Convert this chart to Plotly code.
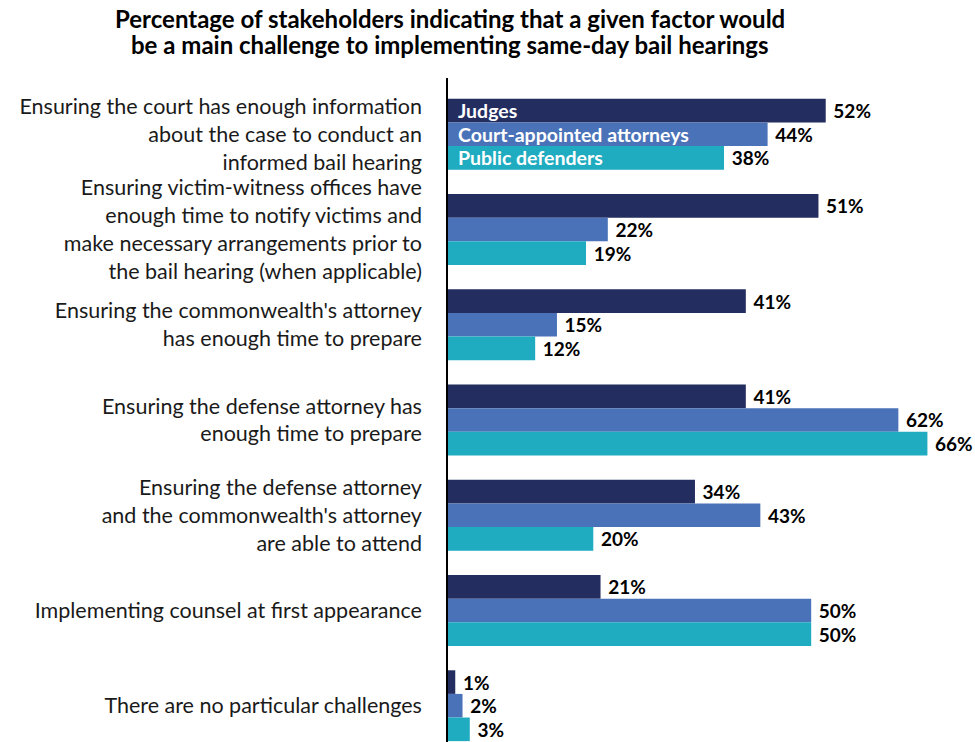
import plotly.graph_objects as go

# Survey results (percent of stakeholders)
factors = [
    "Ensuring the court has enough information<br>about the case to conduct an<br>informed bail hearing",
    "Ensuring victim-witness offices have<br>enough time to notify victims and<br>make necessary arrangements prior to<br>the bail hearing (when applicable)",
    "Ensuring the commonwealth's attorney<br>has enough time to prepare",
    "Ensuring the defense attorney has<br>enough time to prepare",
    "Ensuring the defense attorney<br>and the commonwealth's attorney<br>are able to attend",
    "Implementing counsel at first appearance",
    "There are no particular challenges",
]
series_names = ["Judges", "Court-appointed attorneys", "Public defenders"]
judges = [52, 51, 41, 41, 34, 21, 1]
court_appointed = [44, 22, 15, 62, 43, 50, 2]
public_defenders = [38, 19, 12, 66, 20, 50, 3]

title_lines = [
    "Percentage of stakeholders indicating that a given factor would",
    "be a main challenge to implementing same-day bail hearings",
]

colors = ["#232D5F", "#4A72B8", "#1FABC0"]
font_family = "Lato, 'Open Sans', sans-serif"

positions = list(range(len(factors)))
bar_w = 0.248
offsets = [-bar_w, 0, bar_w]

fig = go.Figure()
for name, values, color, off in zip(series_names,
                                    [judges, court_appointed, public_defenders],
                                    colors, offsets):
    fig.add_trace(go.Bar(
        y=positions,
        x=values,
        orientation="h",
        name=name,
        marker=dict(color=color, line=dict(width=0)),
        width=bar_w,
        offset=off - bar_w / 2,
        text=[f"\u00a0{v}%" for v in values],
        textposition="outside",
        constraintext="none",
        textfont=dict(family=font_family, size=19, color="black", weight="bold"),
        cliponaxis=False,
        showlegend=False,
    ))

# series names written inside the first group's bars
for name, off in zip(series_names, offsets):
    fig.add_annotation(
        x=0, y=positions[0] + off, text=f"<b>{name}</b>",
        xanchor="left", yanchor="middle", xshift=8, showarrow=False,
        font=dict(family=font_family, size=19.5, color="white"),
    )

# title, one annotation per line to keep the tight line spacing
for line, ypos in zip(title_lines, [1.090, 1.051]):
    fig.add_annotation(
        xref="paper", yref="paper", x=0.004, y=ypos, xanchor="center", yanchor="middle",
        showarrow=False, text=f"<b>{line}</b>",
        font=dict(family=font_family, size=24, color="black"),
    )

fig.update_xaxes(range=[0, 72], visible=False, showgrid=False, zeroline=False)
fig.update_yaxes(
    tickvals=positions, ticktext=factors,
    range=[6.381, -0.590],
    showgrid=False, zeroline=False, automargin=False,
    showline=True, linecolor="black", linewidth=1.5,
    ticks="", ticklabelstandoff=20,
    tickfont=dict(family=font_family, size=21.5, color="#1a1a1a"),
)

fig.update_layout(
    width=975, height=742,
    margin=dict(l=448, r=4, t=78, b=0),
    plot_bgcolor="white", paper_bgcolor="white",
    barmode="overlay",
)

# drop the default page margin so the figure sits flush in the window
fig.write_html("out.html", config={"displayModeBar": False},
               post_script="document.body.style.margin = '0';")
